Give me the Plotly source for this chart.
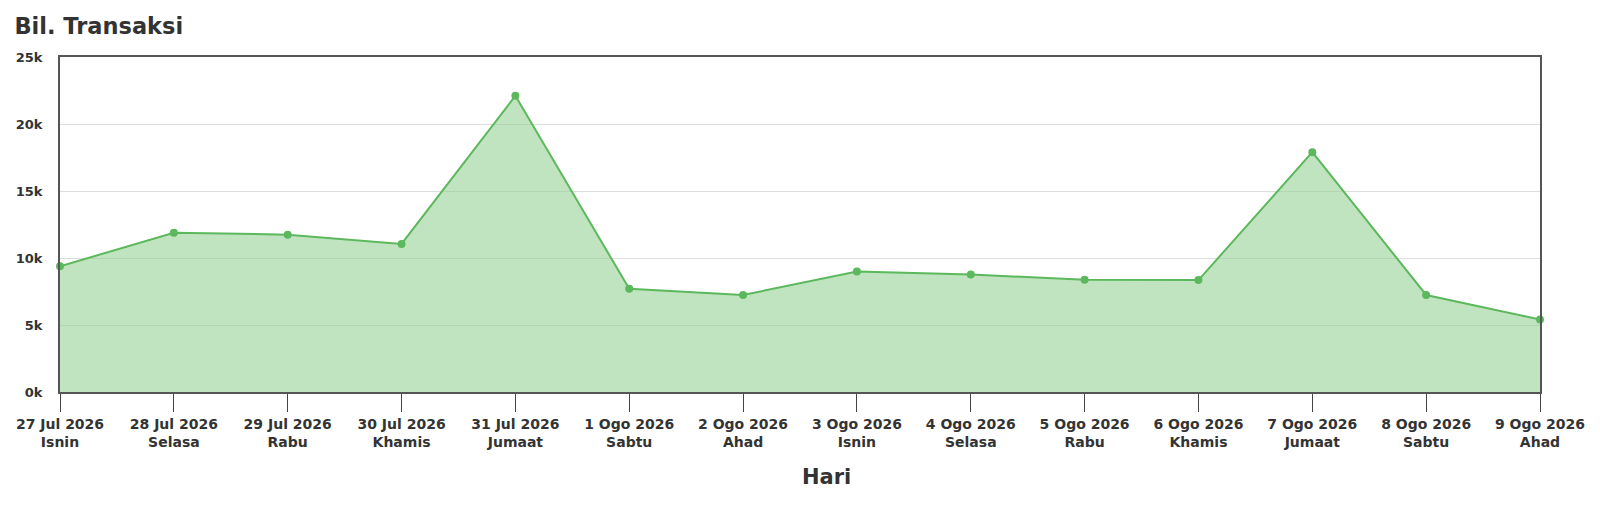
import plotly.graph_objects as go

# Daily transaction counts
dates = ['27 Jul 2026', '28 Jul 2026', '29 Jul 2026', '30 Jul 2026', '31 Jul 2026',
         '1 Ogo 2026', '2 Ogo 2026', '3 Ogo 2026', '4 Ogo 2026', '5 Ogo 2026',
         '6 Ogo 2026', '7 Ogo 2026', '8 Ogo 2026', '9 Ogo 2026']
days = ['Isnin', 'Selasa', 'Rabu', 'Khamis', 'Jumaat', 'Sabtu', 'Ahad',
        'Isnin', 'Selasa', 'Rabu', 'Khamis', 'Jumaat', 'Sabtu', 'Ahad']
transactions = [9380, 11890, 11740, 11050, 22100, 7700, 7240,
                8990, 8770, 8380, 8350, 17900, 7240, 5410]

y_ticks = [0, 5000, 10000, 15000, 20000, 25000]
y_labels = ['0k', '5k', '10k', '15k', '20k', '25k']

labels = [f'{d}<br>{w}' for d, w in zip(dates, days)]
x = list(range(len(dates)))

FONT = 'DejaVu Sans'
TEXT = '#333333'

fig = go.Figure()
fig.add_trace(go.Scatter(
    x=x, y=transactions,
    mode='lines+markers',
    fill='tozeroy',
    fillcolor='rgba(150,210,150,0.6)',
    line=dict(color='#5cb85c', width=2),
    marker=dict(color='#5cb85c', size=8),
    cliponaxis=False,
    hoverinfo='y',
))

fig.update_layout(
    width=1600, height=523,
    margin=dict(l=60, r=60, t=57, b=131),
    paper_bgcolor='white',
    plot_bgcolor='white',
    showlegend=False,
    font=dict(family=FONT, color=TEXT),
    title=dict(text='<b>Bil. Transaksi</b>', x=0.009, xanchor='left',
               y=0.95, yanchor='middle',
               font=dict(family=FONT, size=22.5, color=TEXT)),
)

# x-axis title sits a little right of centre in the original
fig.add_annotation(
    text='<b>Hari</b>', xref='paper', yref='paper',
    x=0.5176, y=-0.254, xanchor='center', yanchor='middle',
    showarrow=False, font=dict(family=FONT, size=21, color=TEXT),
)

fig.update_xaxes(
    range=[0, len(dates) - 1],
    tickvals=x, ticktext=[f'<b>{t}</b>' for t in labels],
    tickfont=dict(family=FONT, size=14, color=TEXT),
    ticks='outside', ticklen=18, tickwidth=1, tickcolor='#444444',
    showline=True, linecolor='#555555', linewidth=2, mirror=True,
    showgrid=False, zeroline=False,
)

fig.update_yaxes(
    range=[0, 25000],
    tickvals=y_ticks, ticktext=[f'<b>{t}</b>' for t in y_labels],
    tickfont=dict(family=FONT, size=13, color=TEXT),
    ticks='outside', ticklen=13, tickcolor='rgba(0,0,0,0)',
    showline=True, linecolor='#555555', linewidth=2, mirror=True,
    showgrid=True, gridcolor='#dddddd', gridwidth=1,
    zeroline=False,
)

fig.write_html('out.html',
               config={'displayModeBar': False},
               post_script="document.body.style.margin='0';"
                           "document.body.style.overflow='hidden';")
